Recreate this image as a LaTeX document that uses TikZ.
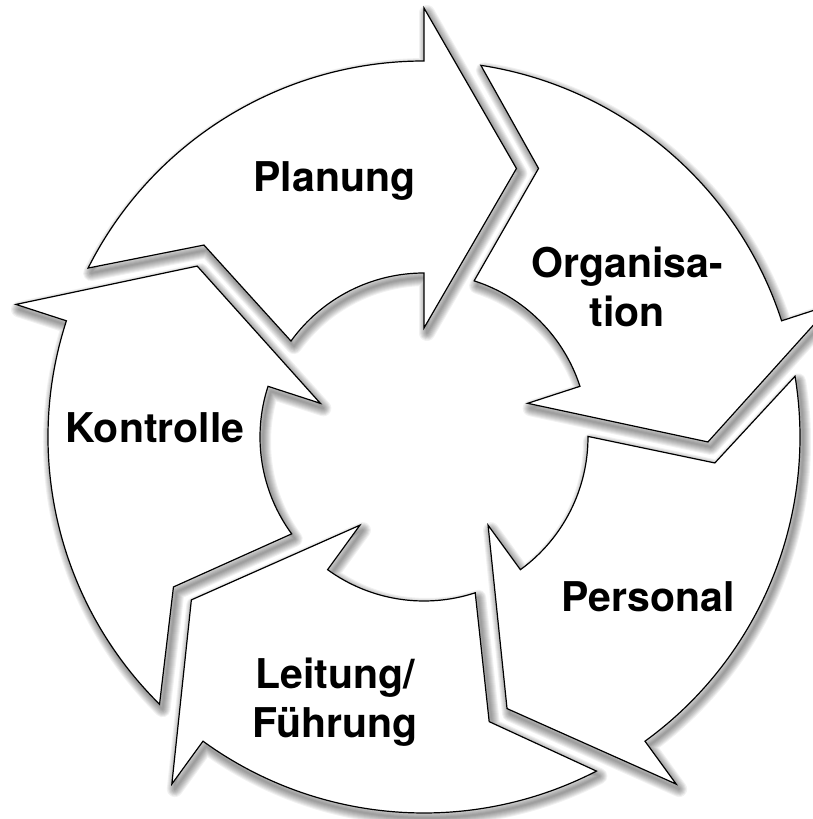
\documentclass[tikz,border=0pt]{standalone}
\usepackage{fontspec}
\newfontfamily\hv{TeX Gyre Heros}
\tikzset{
  arrowshape/.style={insert path={
    ({#1-8.7}:376) arc[start angle={#1-8.7}, end angle={#1-72}, radius=376]
    -- ({#1-72}:429) -- ({#1-91}:284) -- ({#1-72}:109) -- ({#1-72}:164)
    arc[start angle={#1-72}, end angle={#1-17.8}, radius=164]
    -- ({#1-23.1}:292) -- cycle}},
  shadowlayer/.style={draw=black, line join=round, draw opacity=0.055},
  arrowbody/.style={draw=black, fill=white, line width=0.9pt, line join=miter},
  lbl/.style={font=\hv\bfseries\fontsize{30.75}{36.75}\selectfont, align=center, anchor=base, inner sep=0pt}
}
\begin{document}
\begin{tikzpicture}[x=0.75pt,y=0.75pt]
\useasboundingbox (0,0) rectangle (813,819);
\clip (0,0) rectangle (813,819);
\fill[white] (0,0) rectangle (813,819);
\begin{scope}[shift={(424,382)}]
  % shadows
  \begin{scope}[shift={(3,-5)}]
    \foreach \T in {162,90,18,-54,-126} {
      \foreach \w in {2,4,6,8,10,12,14,16} {
        \path[shadowlayer, line width={\w*0.75pt}] [arrowshape=\T];
      }
    }
  \end{scope}
  % arrows
  \foreach \T in {162,90,18,-54,-126} {
    \path[arrowbody] [arrowshape=\T];
  }
\end{scope}
\node[lbl] (planung) at (334.5,627) {Planung};
\node[lbl] (organisation) at (627,492) {Organisa-\\tion};
\node[lbl] (kontrolle) at (155,376) {Kontrolle};
\node[lbl] (personal) at (648,207) {Personal};
\node[lbl] (leitung) at (335,81) {Leitung/\\Führung};
\end{tikzpicture}
\end{document}
